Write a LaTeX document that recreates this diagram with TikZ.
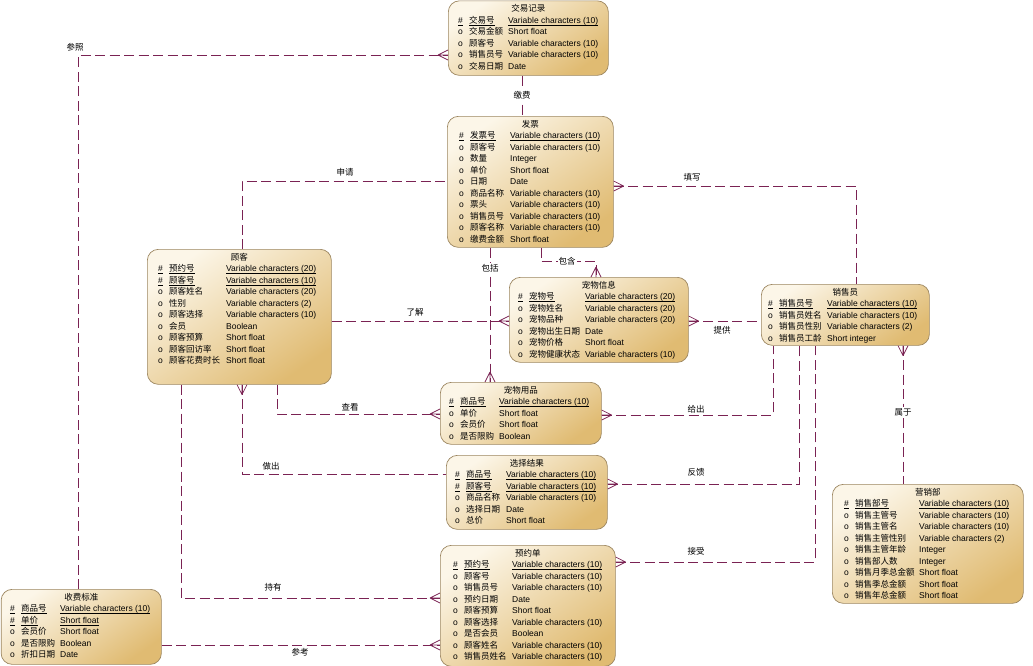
\documentclass[tikz,border=0pt]{standalone}
\usepackage{fontspec}
\setmainfont{Liberation Sans}
\newfontfamily\cjk{Noto Sans CJK SC}
\usepackage{array}
\usetikzlibrary{calc}
\definecolor{lnk}{HTML}{7A2253}
\definecolor{fillA}{HTML}{FCF6E8}
\definecolor{fillB}{HTML}{E0BB72}
\definecolor{edgec}{HTML}{9C8660}
\newcolumntype{N}[1]{>{\cjk}p{#1}}
\newcommand\ulx[1]{\leavevmode\setbox0\hbox{#1}\rlap{\vrule width\wd0 height -1.3pt depth 1.9pt}\box0}
\newcommand\erK[2]{\ulx{\#} & \ulx{#1} & \ulx{#2}\\}
\newcommand\erA[2]{o & #1 & #2\\}
\tikzset{
  ent/.style={draw=edgec, line width=0.7pt, rounded corners=11pt, top color=fillA, bottom color=fillB, shading angle=35, inner sep=0pt},
  ttl/.style={font=\cjk\fontsize{8.5}{10}\selectfont, inner sep=0pt},
  rowsbox/.style={font=\fontsize{8.5}{11.5}\selectfont, inner sep=0pt},
  conn/.style={draw=lnk, line width=0.7pt, dash pattern=on 10pt off 4.5pt},
  crow/.style={draw=lnk, line width=0.7pt, solid},
  lbl/.style={font=\cjk\fontsize{8.5}{10}\selectfont, inner sep=1pt},
  lblw/.style={lbl, fill=white}
}
% #1 name #2 x1 #3 y1 #4 x2 #5 y2 #6 title #7 marker x #8 name width #9 rows
\newcommand\entity[9]{%
  \node[ent, minimum width={#4-#2}, minimum height={#5-#3}, anchor=north west] (#1) at (#2,#3) {};
  \node[ttl] (#1-t) at ($(#1.north)+(0,8)$) {#6};
  \node[rowsbox, anchor=north west] (#1-r) at (#7,#3+14.5) {\begin{tabular}{@{}p{11pt}@{}N{#8pt}@{}l@{}}#9\end{tabular}};
}
\newcommand\crowfoot[3]{\draw[crow] ($(#1)+(#2)$) -- ($(#1)+(#3)$) ($(#1)+(#2)$) -- (#1) ($(#1)+(#2)$) -- ($(#1)-(#3)$);}
\begin{document}
\begin{tikzpicture}[x=1pt,y=-1pt]
\useasboundingbox (0,0) rectangle (1033,665);

\entity{jy}{448}{0.5}{608}{75}{交易记录}{458}{39}{%
\erK{交易号}{Variable characters (10)}
\erA{交易金额}{Short float}
\erA{顾客号}{Variable characters (10)}
\erA{销售员号}{Variable characters (10)}
\erA{交易日期}{Date}}

\entity{fp}{447}{116}{613}{247}{发票}{459}{40}{%
\erK{发票号}{Variable characters (10)}
\erA{顾客号}{Variable characters (10)}
\erA{数量}{Integer}
\erA{单价}{Short float}
\erA{日期}{Date}
\erA{商品名称}{Variable characters (10)}
\erA{票头}{Variable characters (10)}
\erA{销售员号}{Variable characters (10)}
\erA{顾客名称}{Variable characters (10)}
\erA{缴费金额}{Short float}}

\entity{gk}{147}{249}{331}{384}{顾客}{158}{57}{%
\erK{预约号}{Variable characters (20)}
\erK{顾客号}{Variable characters (10)}
\erA{顾客姓名}{Variable characters (20)}
\erA{性别}{Variable characters (2)}
\erA{顾客选择}{Variable characters (10)}
\erA{会员}{Boolean}
\erA{顾客预算}{Short float}
\erA{顾客回访率}{Short float}
\erA{顾客花费时长}{Short float}}

\entity{cw}{509}{277}{688}{362}{宠物信息}{518}{56}{%
\erK{宠物号}{Variable characters (20)}
\erA{宠物姓名}{Variable characters (20)}
\erA{宠物品种}{Variable characters (20)}
\erA{宠物出生日期}{Date}
\erA{宠物价格}{Short float}
\erA{宠物健康状态}{Variable characters (10)}}

\entity{xs}{761}{284}{929}{345}{销售员}{768}{48}{%
\erK{销售员号}{Variable characters (10)}
\erA{销售员姓名}{Variable characters (10)}
\erA{销售员性别}{Variable characters (2)}
\erA{销售员工龄}{Short integer}}

\entity{yp}{440}{382}{601}{444}{宠物用品}{449}{39}{%
\erK{商品号}{Variable characters (10)}
\erA{单价}{Short float}
\erA{会员价}{Short float}
\erA{是否限购}{Boolean}}

\entity{xz}{446}{455}{607}{529}{选择结果}{455}{40}{%
\erK{商品号}{Variable characters (10)}
\erK{顾客号}{Variable characters (10)}
\erA{商品名称}{Variable characters (10)}
\erA{选择日期}{Date}
\erA{总价}{Short float}}

\entity{yy}{440}{545}{615}{666}{预约单}{453}{48}{%
\erK{预约号}{Variable characters (10)}
\erA{顾客号}{Variable characters (10)}
\erA{销售员号}{Variable characters (10)}
\erA{预约日期}{Date}
\erA{顾客预算}{Short float}
\erA{顾客选择}{Variable characters (10)}
\erA{是否会员}{Boolean}
\erA{顾客姓名}{Variable characters (10)}
\erA{销售员姓名}{Variable characters (10)}}

\entity{sf}{0.8}{589}{161}{664}{收费标准}{10}{39}{%
\erK{商品号}{Variable characters (10)}
\erK{单价}{Short float}
\erA{会员价}{Short float}
\erA{是否限购}{Boolean}
\erA{折扣日期}{Date}}

\entity{yx}{832}{484}{1023}{603}{营销部}{844}{64}{%
\erK{销售部号}{Variable characters (10)}
\erA{销售主管号}{Variable characters (10)}
\erA{销售主管名}{Variable characters (10)}
\erA{销售主管性别}{Variable characters (2)}
\erA{销售主管年龄}{Integer}
\erA{销售部人数}{Integer}
\erA{销售月季总金额}{Short float}
\erA{销售季总金额}{Short float}
\erA{销售年总金额}{Short float}}

% connector end points
\coordinate (c1a) at (sf.north -| 78,0);   \coordinate (c1b) at (jy.west |- 0,55);
\coordinate (c2a) at (jy.south -| 522,0);  \coordinate (c2b) at (fp.north -| 522,0);
\coordinate (c3a) at (gk.north -| 242,0);  \coordinate (c3b) at (fp.west |- 0,181);
\coordinate (c4a) at (fp.east |- 0,186);   \coordinate (c4b) at (xs.north -| 856,0);
\coordinate (c5a) at (fp.south -| 541,0);  \coordinate (c5b) at (cw.north -| 596,0);
\coordinate (c6a) at (fp.south -| 490,0);  \coordinate (c6b) at (yp.north -| 490,0);
\coordinate (c7a) at (gk.east |- 0,321);   \coordinate (c7b) at (cw.west |- 0,321);
\coordinate (c8a) at (cw.east |- 0,321);   \coordinate (c8b) at (xs.west |- 0,321);
\coordinate (c9a) at (gk.south -| 277,0);  \coordinate (c9b) at (yp.west |- 0,414);
\coordinate (c10a) at (yp.east |- 0,415);  \coordinate (c10b) at (xs.south -| 773,0);
\coordinate (c11a) at (gk.south -| 242,0); \coordinate (c11b) at (xz.west |- 0,474);
\coordinate (c12a) at (xz.east |- 0,484);  \coordinate (c12b) at (xs.south -| 799,0);
\coordinate (c13a) at (yy.east |- 0,562);  \coordinate (c13b) at (xs.south -| 815,0);
\coordinate (c14a) at (xs.south -| 903,0); \coordinate (c14b) at (yx.north -| 903,0);
\coordinate (c15a) at (gk.south -| 181,0); \coordinate (c15b) at (yy.west |- 0,598);
\coordinate (c16a) at (sf.east |- 0,645);  \coordinate (c16b) at (yy.west |- 0,645);

\draw[conn] (c1a) |- (c1b);
\draw[conn] (c2a) -- (c2b);
\draw[conn] (c3a) |- (c3b);
\draw[conn] (c4a) -| (c4b);
\draw[conn] (c5a) -- ++(0,14) -| (c5b);
\draw[conn] (c6a) -- (c6b);
\draw[conn] (c7a) -- (c7b);
\draw[conn] (c8a) -- (c8b);
\draw[conn] (c9a) |- (c9b);
\draw[conn] (c10a) -| (c10b);
\draw[conn] (c11a) |- (c11b);
\draw[conn] (c12a) -| (c12b);
\draw[conn] (c13a) -| (c13b);
\draw[conn] (c14a) -- (c14b);
\draw[conn] (c15a) |- (c15b);
\draw[conn] (c16a) -- (c16b);

% crow's feet (many ends)
\crowfoot{c1b}{-10,0}{0,5}
\crowfoot{c4a}{10,0}{0,5}
\crowfoot{c5b}{0,-10}{5,0}
\crowfoot{c6b}{0,-10}{5,0}
\crowfoot{c7b}{-10,0}{0,5}
\crowfoot{c8a}{10,0}{0,5}
\crowfoot{c9b}{-10,0}{0,5}
\crowfoot{c10a}{10,0}{0,5}
\crowfoot{c11a}{0,10}{5,0}
\crowfoot{c12a}{10,0}{0,5}
\crowfoot{c13a}{10,0}{0,5}
\crowfoot{c14a}{0,10}{5,0}
\crowfoot{c15b}{-10,0}{0,5}
\crowfoot{c16b}{-10,0}{0,5}

% labels
\node[lbl] (l1) at (75,47) {参照};
\node[lblw] (l2) at (522,95) {缴费};
\node[lbl] (l3) at (345,172) {申请};
\node[lbl] (l4) at (692,177) {填写};
\node[lblw] (l5) at (567,261) {包含};
\node[lblw] (l6) at (490,268) {包括};
\node[lbl] (l7) at (415,312) {了解};
\node[lbl] (l8) at (722,330) {提供};
\node[lbl] (l9) at (350,407) {查看};
\node[lbl] (l10) at (696,409) {给出};
\node[lbl] (l11) at (271,466) {做出};
\node[lbl] (l12) at (696,472) {反馈};
\node[lbl] (l13) at (696,551) {接受};
\node[lblw] (l14) at (903,412) {属于};
\node[lbl] (l15) at (273,587) {持有};
\node[lbl] (l16) at (300,652) {参考};
\end{tikzpicture}
\end{document}
